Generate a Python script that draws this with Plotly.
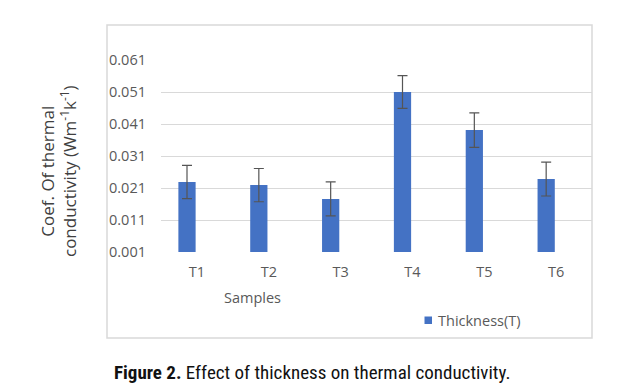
import plotly.graph_objects as go

categories = ["T1", "T2", "T3", "T4", "T5", "T6"]
values = [0.0229, 0.0219, 0.0176, 0.0510, 0.0391, 0.0238]
errors = [0.0052, 0.0052, 0.0053, 0.0051, 0.0054, 0.0053]
y_ticks = [0.001, 0.011, 0.021, 0.031, 0.041, 0.051, 0.061]
y_tick_labels = ["0.001", "0.011", "0.021", "0.031", "0.041", "0.051", "0.061"]
legend_label = "Thickness(T)"

OFF = 8  # default body margin of the html page
W, H = 641 - OFF, 389 - OFF
# plot area in page coords
PL, PR, PT, PB = 161, 592, 60, 252
L, R, T, B = PL - OFF, PR - OFF, PT - OFF, PB - OFF

def px(x):  # page x -> paper
    return (x - OFF - L) / (R - L)

def py(y):  # page y -> paper
    return (B - (y - OFF)) / (B - T)

# category slot width in px; first bar centre at page x 187
slot = (PR - PL) / 6.0
x0 = -(187 - PL) / slot

fig = go.Figure()
fig.add_trace(go.Bar(
    x=list(range(len(categories))), y=values, name=legend_label,
    marker=dict(color="#4472C4", line=dict(width=0)),
    width=0.24, showlegend=False,
    error_y=dict(type="data", array=errors, visible=True,
                 color="#555555", thickness=1.2, width=5),
))

fig.update_layout(
    width=W, height=H,
    margin=dict(l=L, r=W - R, t=T, b=H - B, pad=0),
    paper_bgcolor="white", plot_bgcolor="white",
    font=dict(family="Open Sans, DejaVu Sans, sans-serif", color="#595959", size=14),
    showlegend=False,
    xaxis=dict(range=[x0, x0 + 6], tickvals=list(range(len(categories))), ticktext=categories,
               showgrid=False, showline=False, zeroline=False, ticks="",
               tickfont=dict(size=14.5, color="#595959"),
               ticklabelstandoff=9, ticklabelshift=10),
    yaxis=dict(range=[0.001, 0.061], tickvals=y_ticks, ticktext=y_tick_labels,
               showgrid=True, gridcolor="#D9D9D9", gridwidth=1, zeroline=False,
               showline=False, ticks="", tickfont=dict(size=14.5, color="#595959"),
               ticklabelstandoff=14),
    shapes=[
        dict(type="rect", xref="paper", yref="paper",
             x0=px(107), x1=px(592), y0=py(338), y1=py(25),
             line=dict(color="#D9D9D9", width=1.5), fillcolor="rgba(0,0,0,0)", layer="below"),
        dict(type="rect", xref="paper", yref="paper",
             x0=px(424.5), x1=px(432), y0=py(324), y1=py(316.5),
             line=dict(width=0), fillcolor="#4472C4"),
    ],
    annotations=[
        dict(text="Coef. Of thermal<br>conductivity (Wm<sup>-1</sup>k<sup>-1</sup>)",
             xref="paper", yref="paper", x=px(58), y=py(171), xanchor="center", yanchor="middle",
             textangle=-90, showarrow=False,
             font=dict(size=17, color="#404040", family="Open Sans, DejaVu Sans, sans-serif")),
        dict(text="Samples", xref="paper", yref="paper", x=px(252), y=py(297),
             xanchor="center", yanchor="middle", showarrow=False,
             font=dict(size=14.5, color="#595959")),
        dict(text=legend_label, xref="paper", yref="paper", x=px(436), y=py(320),
             xanchor="left", yanchor="middle", showarrow=False,
             font=dict(size=14.5, color="#595959")),
        dict(text="<b>Figure 2.</b> Effect of thickness on thermal conductivity.",
             xref="paper", yref="paper", x=px(312), y=py(372),
             xanchor="center", yanchor="middle", showarrow=False,
             font=dict(size=19, color="#111111",
                       family="Liberation Sans Narrow, Roboto Condensed, Arial Narrow, sans-serif")),
    ],
)

fig.write_html("out.html")
